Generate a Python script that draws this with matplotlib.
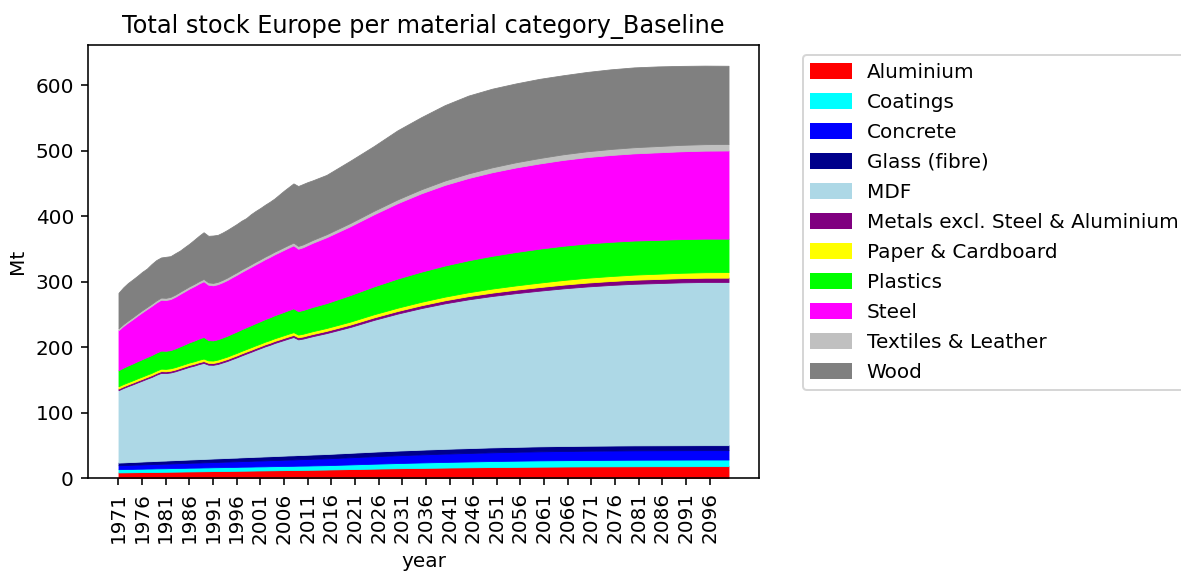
import matplotlib
matplotlib.use("Agg")
import matplotlib.pyplot as plt
from matplotlib.patches import Patch

# years: annual up to 2012, then every 5 years
years = list(range(1971, 2013)) + list(range(2015, 2101, 5))

materials = [
    "Aluminium", "Coatings", "Concrete", "Glass (fibre)", "MDF",
    "Metals excl. Steel & Aluminium", "Paper & Cardboard", "Plastics",
    "Steel", "Textiles & Leather", "Wood",
]
colors = [
    "red", "cyan", "blue", "darkblue", "lightblue",
    "purple", "yellow", "lime", "magenta", "silver", "gray",
]

aluminium = [9.0, 9.1, 9.2, 9.3, 9.4, 9.5, 9.6, 9.7, 9.8, 9.9, 10.0, 10.1, 10.2, 10.3,
             10.4, 10.5, 10.6, 10.7, 10.8, 10.9, 11.0, 11.1, 11.2, 11.3, 11.4, 11.5, 11.6,
             11.7, 11.8, 11.9, 12.0, 12.1, 12.2, 12.3, 12.4, 12.5, 12.6, 12.7, 12.8, 12.9,
             13.0, 13.1,
             13.4, 14.1, 14.8, 15.4, 15.9, 16.4, 16.8, 17.2, 17.5, 17.8, 18.0, 18.2, 18.3,
             18.4, 18.5, 18.5, 18.6, 18.6]
coatings = [5.0, 5.0, 5.1, 5.1, 5.2, 5.2, 5.3, 5.3, 5.4, 5.4, 5.4, 5.5, 5.5, 5.6, 5.6,
            5.7, 5.7, 5.7, 5.8, 5.8, 5.9, 5.9, 5.9, 6.0, 6.0, 6.0, 6.1, 6.1, 6.1, 6.2,
            6.2, 6.2, 6.3, 6.3, 6.3, 6.4, 6.4, 6.4, 6.5, 6.5, 6.5, 6.6,
            6.7, 7.1, 7.5, 7.9, 8.3, 8.6, 8.9, 9.2, 9.4, 9.6, 9.7, 9.8, 9.9, 10.0, 10.0,
            10.1, 10.1, 10.1]
concrete = [6.0, 6.1, 6.2, 6.3, 6.4, 6.5, 6.6, 6.7, 6.8, 6.9, 7.0, 7.1, 7.2, 7.3, 7.4,
            7.5, 7.6, 7.7, 7.8, 7.9, 8.0, 8.1, 8.2, 8.3, 8.4, 8.5, 8.6, 8.7, 8.8, 8.9,
            9.0, 9.1, 9.2, 9.3, 9.4, 9.5, 9.6, 9.7, 9.8, 9.9, 10.0, 10.1,
            10.4, 10.9, 11.4, 11.9, 12.3, 12.7, 13.0, 13.3, 13.6, 13.8, 14.0, 14.1, 14.2,
            14.3, 14.3, 14.3, 14.3, 14.3]
glass = [4.0, 4.1, 4.2, 4.2, 4.3, 4.4, 4.5, 4.5, 4.6, 4.7, 4.7, 4.8, 4.9, 4.9, 5.0, 5.0,
         5.1, 5.2, 5.2, 5.3, 5.3, 5.4, 5.5, 5.5, 5.6, 5.6, 5.7, 5.8, 5.8, 5.9, 5.9, 6.0,
         6.0, 6.1, 6.2, 6.2, 6.3, 6.3, 6.4, 6.4, 6.5, 6.5,
         6.6, 6.8, 7.0, 7.1, 7.2, 7.3, 7.4, 7.5, 7.5, 7.6, 7.6, 7.6, 7.6, 7.6, 7.6, 7.6,
         7.6, 7.6]
mdf = [110.5, 113.5, 116, 118.5, 121, 123.5, 126, 128.5, 131.5, 134, 133.5, 134, 135.5,
       137.5, 139.5, 141.5, 143, 145, 146.5, 143.5, 143, 144, 146, 148, 150.5, 153,
       155.5, 158, 160.5, 163, 165.5, 168, 170, 172.5, 174.5, 176.5, 178.5, 180.5,
       176.5, 177.5, 179, 180.5,
       184.5, 192, 201, 209, 216, 222, 227, 231, 234.5, 237.5, 240.5, 243, 245, 246.5,
       247.5, 248.5, 249, 249]
metals = [2.5, 2.5, 2.5, 2.6, 2.6, 2.6, 2.6, 2.7, 2.7, 2.7, 2.7, 2.7, 2.7, 2.8, 2.8, 2.8,
          2.8, 2.8, 2.8, 2.8, 2.8, 2.9, 2.9, 2.9, 2.9, 2.9, 3.0, 3.0, 3.0, 3.0, 3.0, 3.1,
          3.1, 3.1, 3.1, 3.2, 3.2, 3.2, 3.2, 3.2, 3.3, 3.3,
          3.4, 3.6, 3.8, 4.0, 4.3, 4.6, 4.9, 5.1, 5.3, 5.5, 5.7, 5.9, 6.0, 6.2, 6.3, 6.4,
          6.5, 6.6]
paper = [3.5, 3.5, 3.5, 3.5, 3.6, 3.6, 3.6, 3.6, 3.6, 3.7, 3.7, 3.7, 3.7, 3.7, 3.7, 3.8,
         3.8, 3.8, 3.8, 3.7, 3.7, 3.8, 3.8, 3.8, 3.9, 3.9, 3.9, 3.9, 4.0, 4.0, 4.0, 4.0,
         4.1, 4.1, 4.1, 4.1, 4.2, 4.2, 4.1, 4.2, 4.2, 4.3,
         4.4, 4.6, 4.8, 5.0, 5.3, 5.6, 5.9, 6.2, 6.5, 6.8, 7.1, 7.4, 7.6, 7.8, 8.0, 8.2,
         8.4, 8.5]
plastics = [24.5, 25, 25.5, 25.8, 26.2, 26.5, 26.8, 27.1, 27.4, 27.6, 27.6, 27.8, 28.5,
            29.2, 30, 30.8, 31.6, 32.3, 33, 31, 30.8, 31, 31.4, 31.8, 32.2, 32.6, 33,
            33.3, 33.6, 33.9, 34.2, 34.5, 34.8, 35.1, 35.4, 35.7, 36, 36.3, 35.8, 36.2,
            36.6, 37,
            38, 40.5, 42.5, 44.5, 46, 47.5, 48.8, 50, 51, 51.8, 52.2, 52.3, 52.2, 52,
            51.7, 51.4, 51.2, 51]
steel = [61, 63.5, 65.5, 67.5, 69.5, 71.5, 73.2, 75, 76.5, 77.6, 77.5, 77.8, 78.8, 80,
         81, 82, 83, 84, 85, 84.5, 84, 84, 84.3, 85, 85.8, 86.6, 87.4, 88.2, 89, 89.8,
         90.6, 91.4, 92.2, 93, 93.8, 94.6, 95.4, 96.2, 95.2, 95.8, 96.8, 97.8,
         100.5, 105, 110, 115, 119.5, 123, 125.5, 127.5, 129, 130, 131, 131.8, 132.5,
         133, 133.5, 134, 134.3, 134.5]
textiles = [3.0, 3.0, 3.1, 3.1, 3.1, 3.2, 3.2, 3.2, 3.3, 3.3, 3.3, 3.4, 3.4, 3.4, 3.5,
            3.5, 3.5, 3.6, 3.6, 3.6, 3.7, 3.7, 3.7, 3.8, 3.8, 3.8, 3.9, 3.9, 3.9, 4.0,
            4.0, 4.0, 4.1, 4.1, 4.1, 4.2, 4.2, 4.2, 4.3, 4.3, 4.3, 4.4,
            4.6, 5.0, 5.4, 5.8, 6.2, 6.7, 7.1, 7.5, 7.9, 8.3, 8.6, 8.9, 9.2, 9.4, 9.6,
            9.8, 9.9, 10.0]
wood = [54, 56, 57.2, 57.5, 57.7, 58.5, 58.6, 60.7, 61.4, 61.2, 62.6, 62.1, 63, 62.8,
        64, 65, 67.3, 69.2, 71.2, 71, 72.3, 71.6, 72.1, 72.6, 73, 73.6, 74.3, 74.4,
        76.5, 77.4, 78.1, 79.1, 80, 81.1, 83.7, 86.1, 88.1, 90.3, 91.4, 92.1, 91.8, 90.9,
        90.5, 95, 98.8, 105.4, 110, 115, 118.7, 120, 120.3, 120.8, 120.6, 121, 121.5,
        121.8, 121.5, 120.5, 119.8, 119.3]

stock = [aluminium, coatings, concrete, glass, mdf, metals, paper, plastics,
         steel, textiles, wood]

DPI = 144
fig = plt.figure(figsize=(1181 / DPI, 571 / DPI), dpi=DPI)
ax = fig.add_axes([0.0745, 0.1623, 0.5682, 0.7589])

ax.stackplot(years, *stock, colors=colors, edgecolor="face", linewidth=0.4)

# tick every 5 years starting 1971
ax.set_xticks(list(range(1971, 2100, 5)))
ax.tick_params(axis="x", labelrotation=90)
ax.set_xlabel("year")
ax.set_ylabel("Mt")
ax.set_title("Total stock Europe per material category_Baseline")

handles = [Patch(color=c) for c in colors]
ax.legend(handles, materials, loc="upper left", bbox_to_anchor=(1.05, 1),
          labelspacing=0.55)

fig.savefig("out.png", dpi=DPI)
